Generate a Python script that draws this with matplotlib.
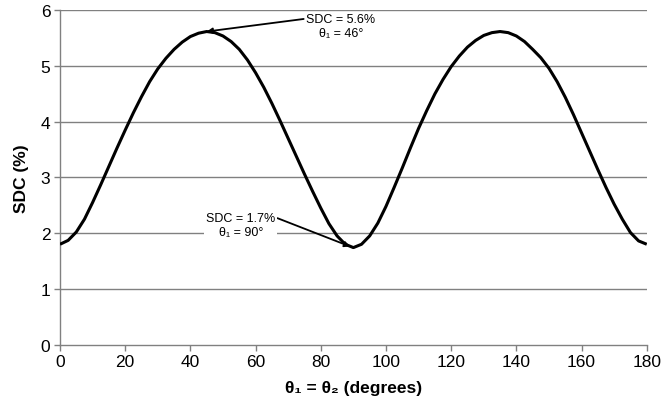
import matplotlib
matplotlib.use("Agg")
import matplotlib.pyplot as plt

plt.rcParams['font.family'] = ['Liberation Sans', 'DejaVu Sans']

# Incidence angle (degrees) and the resulting SDC (%)
theta = [0, 2.5, 5, 7.5, 10, 12.5, 15, 17.5, 20, 22.5, 25, 27.5, 30, 32.5, 35,
         37.5, 40, 42.5, 45, 47.5, 50, 52.5, 55, 57.5, 60, 62.5, 65, 67.5, 70,
         72.5, 75, 77.5, 80, 82.5, 85, 87.5, 90,
         92.5, 95, 97.5, 100, 102.5, 105, 107.5, 110, 112.5, 115, 117.5, 120,
         122.5, 125, 127.5, 130, 132.5, 135, 137.5, 140, 142.5, 145, 147.5,
         150, 152.5, 155, 157.5, 160, 162.5, 165, 167.5, 170, 172.5, 175,
         177.5, 180]
sdc = [1.80, 1.87, 2.02, 2.25, 2.55, 2.87, 3.20, 3.53, 3.85, 4.16, 4.45, 4.72,
       4.95, 5.14, 5.30, 5.43, 5.53, 5.59, 5.62, 5.60, 5.54, 5.44, 5.30, 5.11,
       4.88, 4.62, 4.33, 4.02, 3.70, 3.38, 3.06, 2.75, 2.45, 2.17, 1.95, 1.80,
       1.74,
       1.80, 1.95, 2.18, 2.48, 2.82, 3.17, 3.53, 3.88, 4.20, 4.50, 4.76, 4.99,
       5.18, 5.34, 5.46, 5.55, 5.60, 5.62, 5.60, 5.54, 5.44, 5.30, 5.15,
       4.96, 4.72, 4.44, 4.13, 3.80, 3.47, 3.14, 2.82, 2.52, 2.25, 2.01,
       1.86, 1.80]

x_ticks = [0, 20, 40, 60, 80, 100, 120, 140, 160, 180]
y_ticks = [0, 1, 2, 3, 4, 5, 6]

peak_label = "SDC = 5.6%\nθ₁ = 46°"
peak_point = (45, 5.62)
min_label = "SDC = 1.7%\nθ₁ = 90°"
min_point = (89, 1.76)

fig = plt.figure(figsize=(6.63, 4.06), dpi=100)
ax = fig.add_axes([0.0905, 0.149, 0.885, 0.823])

grid_col = "#808080"
for y in y_ticks[1:]:
    ax.axhline(y, color=grid_col, lw=1.0, zorder=1)

ax.plot(theta, sdc, color="black", lw=2.2, zorder=3,
        solid_joinstyle="round", solid_capstyle="butt")

ax.set_xlim(0, 180)
ax.set_ylim(0, 6)
ax.set_xticks(x_ticks)
ax.set_yticks(y_ticks)
ax.tick_params(axis="both", direction="out", length=4, width=1,
               color=grid_col, labelsize=12.5, pad=3)

for side in ("top", "right"):
    ax.spines[side].set_visible(False)
for side in ("left", "bottom"):
    ax.spines[side].set_color(grid_col)
    ax.spines[side].set_linewidth(1.0)

ax.set_ylabel("SDC (%)", fontsize=12.5, fontweight="bold", labelpad=8)
ax.set_xlabel("θ₁ = θ₂ (degrees)", fontsize=12.5, fontweight="bold", labelpad=8)

arrow = dict(arrowstyle="-|>", color="black", lw=1.3, mutation_scale=8,
             shrinkA=0, shrinkB=0)
ax.annotate(peak_label, xy=peak_point, xytext=(86.2, 5.72),
            fontsize=9, ha="center", va="center", linespacing=1.25,
            arrowprops=dict(arrow, relpos=(0.0, 0.78)), zorder=4)
ax.annotate(min_label, xy=min_point, xytext=(55.5, 2.15),
            fontsize=9, ha="center", va="center", linespacing=1.25,
            bbox=dict(boxstyle="square,pad=0.15", fc="white", ec="none"),
            arrowprops=dict(arrow, relpos=(1.0, 0.78)), zorder=4)

fig.savefig("out.png", dpi=100)
